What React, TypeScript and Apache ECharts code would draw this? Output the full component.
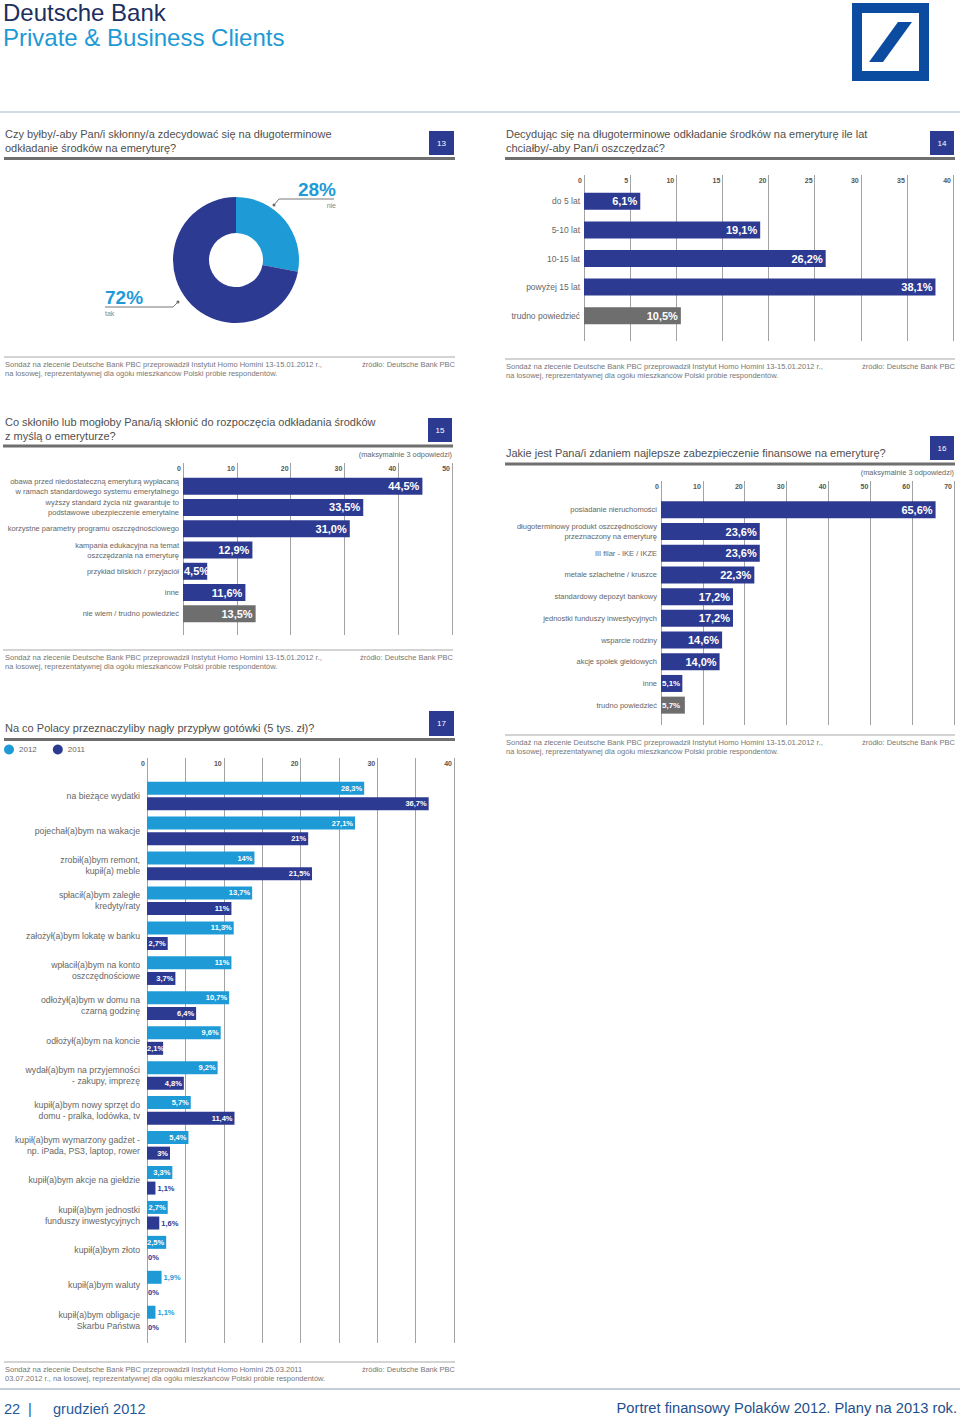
import React, { useEffect, useRef } from 'react';
import * as echarts from 'echarts';

const NAVY = '#2c3a92';
const LIGHT = '#1e9bd7';
const GRAY = '#6e6e6e';
const FONT = '"Liberation Sans", Arial, Helvetica, sans-serif';

// ---- Chart 13 (donut)
const pieNames = ['nie', 'tak'];
const pieValues = [28, 72];

// ---- Chart 14
const c14Categories = ['do 5 lat', '5-10 lat', '10-15 lat', 'powyżej 15 lat', 'trudno powiedzieć'];
const c14Values = [6.1, 19.1, 26.2, 38.1, 10.5];
const c14AxisMax = 40;
const c14AxisStep = 5;

// ---- Chart 15
const c15Categories = [
  'obawa przed niedostateczną emeryturą wypłacaną\nw ramach standardowego systemu emerytalnego',
  'wyższy standard życia niż gwarantuje to\npodstawowe ubezpieczenie emerytalne',
  'korzystne parametry programu oszczędnościowego',
  'kampania edukacyjna na temat\noszczędzania na emeryturę',
  'przykład bliskich / przyjaciół',
  'inne',
  'nie wiem / trudno powiedzieć',
];
const c15Values = [44.5, 33.5, 31.0, 12.9, 4.5, 11.6, 13.5];
const c15AxisMax = 50;
const c15AxisStep = 10;

// ---- Chart 16
const c16Categories = [
  'posiadanie nieruchomości',
  'długoterminowy produkt oszczędnościowy\nprzeznaczony na emeryturę',
  'III filar - IKE / IKZE',
  'metale szlachetne / kruszce',
  'standardowy depozyt bankowy',
  'jednostki funduszy inwestycyjnych',
  'wsparcie rodziny',
  'akcje spółek giełdowych',
  'inne',
  'trudno powiedzieć',
];
const c16Values = [65.6, 23.6, 23.6, 22.3, 17.2, 17.2, 14.6, 14.0, 5.1, 5.7];
const c16AxisMax = 70;
const c16AxisStep = 10;

// ---- Chart 17
const c17Categories = [
  'na bieżące wydatki',
  'pojechał(a)bym na wakacje',
  'zrobił(a)bym remont,\nkupił(a) meble',
  'spłacił(a)bym zaległe\nkredyty/raty',
  'założył(a)bym lokatę w banku',
  'wpłacił(a)bym na konto\noszczędnościowe',
  'odłożył(a)bym w domu na\nczarną godzinę',
  'odłożył(a)bym na koncie',
  'wydał(a)bym na przyjemności\n- zakupy, imprezę',
  'kupił(a)bym nowy sprzęt do\ndomu - pralka, lodówka, tv',
  'kupił(a)bym wymarzony gadżet -\nnp. iPada, PS3, laptop, rower',
  'kupił(a)bym akcje na giełdzie',
  'kupił(a)bym jednostki\nfunduszy inwestycyjnych',
  'kupił(a)bym złoto',
  'kupił(a)bym waluty',
  'kupił(a)bym obligacje\nSkarbu Państwa',
];
const c17Series = ['2012', '2011'];
const c17Values2012 = [28.3, 27.1, 14, 13.7, 11.3, 11, 10.7, 9.6, 9.2, 5.7, 5.4, 3.3, 2.7, 2.5, 1.9, 1.1];
const c17Values2011 = [36.7, 21, 21.5, 11, 2.7, 3.7, 6.4, 2.1, 4.8, 11.4, 3, 1.1, 1.6, 0, 0, 0];
const c17AxisMax = 40;
const c17AxisStep = 5;
const c17LabelStep = 10;

// ---- Texts
const NOTE_A = 'Sondaż na zlecenie Deutsche Bank PBC przeprowadził Instytut Homo Homini 13-15.01.2012 r.,';
const NOTE_B = 'na losowej, reprezentatywnej dla ogółu mieszkańców Polski próbie respondentów.';
const NOTE17_A = 'Sondaż na zlecenie Deutsche Bank PBC przeprowadził Instytut Homo Homini 25.03.2011';
const NOTE17_B = '03.07.2012 r., na losowej, reprezentatywnej dla ogółu mieszkańców Polski próbie respondentów.';
const SOURCE = 'źródło: Deutsche Bank PBC';
const MAX3 = '(maksymalnie 3 odpowiedzi)';

const fmt1 = (v: number) => v.toFixed(1).replace('.', ',') + '%';
const fmt17 = (v: number) => (Number.isInteger(v) ? String(v) : v.toFixed(1).replace('.', ',')) + '%';

function T(x: number, y: number, text: string, o: any = {}) {
  return {
    type: 'text',
    x,
    y,
    silent: true,
    style: {
      text,
      fill: o.fill ?? '#555',
      fontSize: o.size ?? 11,
      fontFamily: o.family ?? FONT,
      fontWeight: o.weight ?? 'normal',
      align: o.align ?? 'left',
      verticalAlign: o.va ?? 'middle',
      lineHeight: o.lh,
    },
  };
}
function R(x: number, y: number, w: number, h: number, fill: string) {
  return { type: 'rect', silent: true, shape: { x, y, width: w, height: h }, style: { fill } };
}
function L(x1: number, y1: number, x2: number, y2: number, stroke: string, lw = 1) {
  return { type: 'line', silent: true, shape: { x1, y1, x2, y2 }, style: { stroke, lineWidth: lw } };
}

function section(s: any) {
  const els: any[] = [];
  s.title.forEach((t: string, i: number) => els.push(T(s.tx, s.ty + i * 14, t, { size: 11, fill: '#505050' })));
  els.push(R(s.bx, s.by, s.bw, s.bh, NAVY));
  els.push(T(s.bx + s.bw / 2, s.by + s.bh / 2, s.num, { size: 8, fill: '#fff', align: 'center' }));
  els.push(L(s.rx0, s.ry, s.rx1, s.ry, '#6f6f6f', 3));
  if (s.max3y) els.push(T(s.rx1 - 1, s.max3y, MAX3, { size: 7.4, fill: '#666', align: 'right' }));
  els.push(L(s.rx0, s.fy, s.rx1, s.fy, '#a8a8a8', 1));
  els.push(T(s.tx, s.fy + 7, s.n1, { size: 7.5, fill: '#777' }));
  els.push(T(s.tx, s.fy + 16, s.n2, { size: 7.5, fill: '#777' }));
  els.push(T(s.rx1, s.fy + 7, SOURCE, { size: 7.5, fill: '#777', align: 'right' }));
  return els;
}

function buildGraphic() {
  const g: any[] = [];
  // header
  g.push(T(3, 12, 'Deutsche Bank', { size: 24, fill: '#1c2f60', lh: 24 }));
  g.push(T(3, 37, 'Private & Business Clients', { size: 24, fill: '#1d9ad6', lh: 24 }));
  g.push(R(852, 3, 77, 78, '#0c4ca0'));
  g.push(R(862, 13, 57, 58, '#ffffff'));
  g.push({ type: 'polygon', silent: true, shape: { points: [[898, 22], [912, 22], [883, 62], [869, 62]] }, style: { fill: '#0c4ca0' } });
  g.push(L(0, 112, 960, 112, '#a9b5c4', 1));
  // sections
  g.push(...section({ title: ['Czy byłby/-aby Pan/i skłonny/a zdecydować się na długoterminowe', 'odkładanie środków na emeryturę?'], tx: 5, ty: 134, bx: 429, by: 131, bw: 25, bh: 24, num: '13', rx0: 4, rx1: 455, ry: 158.5, fy: 357, n1: NOTE_A, n2: NOTE_B }));
  g.push(...section({ title: ['Decydując się na długoterminowe odkładanie środków na emeryturę ile lat', 'chciałby/-aby Pan/i oszczędzać?'], tx: 506, ty: 134, bx: 930, by: 131, bw: 24, bh: 24, num: '14', rx0: 505, rx1: 955, ry: 158.5, fy: 359, n1: NOTE_A, n2: NOTE_B }));
  g.push(...section({ title: ['Co skłoniło lub mogłoby Pana/ią skłonić do rozpoczęcia odkładania środków', 'z myślą o emeryturze?'], tx: 5, ty: 422, bx: 428, by: 418, bw: 24, bh: 24, num: '15', rx0: 3, rx1: 453, ry: 446, max3y: 454, fy: 650, n1: NOTE_A, n2: NOTE_B }));
  g.push(...section({ title: ['Jakie jest Pana/i zdaniem najlepsze zabezpieczenie finansowe na emeryturę?'], tx: 506, ty: 453, bx: 930, by: 436, bw: 24, bh: 24, num: '16', rx0: 505, rx1: 955, ry: 464, max3y: 472, fy: 735, n1: NOTE_A, n2: NOTE_B }));
  g.push(...section({ title: ['Na co Polacy przeznaczyliby nagły przypływ gotówki (5 tys. zł)?'], tx: 5, ty: 728, bx: 429, by: 711, bw: 25, bh: 25, num: '17', rx0: 4, rx1: 455, ry: 739.5, fy: 1362, n1: NOTE17_A, n2: NOTE17_B }));
  // pie leader dots
  g.push({ type: 'circle', silent: true, shape: { cx: 274, cy: 205, r: 1.5 }, style: { fill: '#666' } });
  g.push({ type: 'circle', silent: true, shape: { cx: 178, cy: 302, r: 1.5 }, style: { fill: '#666' } });
  // footer
  g.push(L(0, 1389, 960, 1389, '#8a9aac', 1));
  g.push(T(4, 1409, '22', { size: 14.6, fill: '#1f5a9c' }));
  g.push(T(28, 1409, '|', { size: 14.6, fill: '#1f5a9c' }));
  g.push(T(53, 1409, 'grudzień 2012', { size: 14.6, fill: '#1f5a9c' }));
  g.push(T(957, 1408, 'Portret finansowy Polaków 2012. Plany na 2013 rok.', { size: 14.7, fill: '#1f4f8c', align: 'right' }));
  return g;
}

function tickAxis(grid: number, max: number, step: number, labelEvery: number) {
  return {
    type: 'value', gridIndex: grid, min: 0, max, interval: step, position: 'top',
    axisLine: { show: false }, axisTick: { show: false },
    splitLine: { show: true, lineStyle: { color: '#a3a3a3', width: 1 } },
    axisLabel: {
      inside: true, margin: 2, align: 'right', verticalAlign: 'top', padding: [0, 2, 0, 0],
      fontSize: 7, fontWeight: 'bold', color: '#555', fontFamily: FONT,
      formatter: (v: number) => (v % labelEvery === 0 ? String(v) : ''),
    },
  };
}
function hiddenValueAxis(grid: number, max: number) {
  return { type: 'value', gridIndex: grid, min: 0, max, show: false };
}
function catAxis(grid: number, data: string[], fontSize: number, lineHeight: number, margin = 4) {
  return {
    type: 'category', gridIndex: grid, data, inverse: true,
    axisLine: { show: false }, axisTick: { show: false }, splitLine: { show: false },
    axisLabel: { margin, fontSize, lineHeight, color: '#666', fontFamily: FONT, interval: 0 },
  };
}
function simpleBars(grid: number, values: number[], fontSizeFor: (v: number) => number) {
  return {
    type: 'bar', xAxisIndex: grid, yAxisIndex: grid, barWidth: 17,
    data: values.map((v, i) => ({
      value: v,
      itemStyle: { color: i === values.length - 1 ? GRAY : NAVY },
      label: v < 6
        ? { fontSize: fontSizeFor(v), position: 'insideLeft', distance: 1 }
        : { fontSize: fontSizeFor(v), position: 'insideRight', distance: 3 },
    })),
    label: {
      show: true, color: '#fff', fontWeight: 'bold', fontFamily: FONT,
      formatter: (p: any) => fmt1(p.value),
    },
  };
}
function c17Item(v: number, color: string) {
  let label: any;
  if (v < 2) label = { position: 'right', distance: v === 0 ? 1 : 2, color };
  else if (v < 2.6) label = { position: 'insideLeft', distance: 0 };
  else label = { position: 'insideRight', distance: 2 };
  return { value: v, label };
}

function buildOption(): any {
  const grids = [
    { left: 584, top: 175, width: 369, height: 166 },
    { left: 584, top: 187, width: 369, height: 143 },
    { left: 183, top: 463, width: 269, height: 172 },
    { left: 183, top: 475.5, width: 269, height: 149 },
    { left: 661, top: 481, width: 293, height: 244 },
    { left: 661, top: 499, width: 293, height: 217 },
    { left: 147, top: 758, width: 307, height: 585 },
    { left: 147, top: 778.5, width: 307, height: 559 },
  ].map((g) => ({ ...g, containLabel: false, outerBoundsMode: 'none' }));

  return {
    animation: false,
    backgroundColor: '#ffffff',
    textStyle: { fontFamily: FONT },
    grid: grids,
    legend: {
      data: c17Series, left: 4, top: 744.5, padding: 0, icon: 'circle', itemWidth: 10, itemHeight: 10, itemGap: 16,
      textStyle: { fontSize: 8, color: '#666', fontFamily: FONT },
      selectedMode: false,
    },
    xAxis: [
      tickAxis(0, c14AxisMax, c14AxisStep, c14AxisStep),
      hiddenValueAxis(1, c14AxisMax),
      tickAxis(2, c15AxisMax, c15AxisStep, c15AxisStep),
      hiddenValueAxis(3, c15AxisMax),
      tickAxis(4, c16AxisMax, c16AxisStep, c16AxisStep),
      hiddenValueAxis(5, c16AxisMax),
      tickAxis(6, c17AxisMax, c17AxisStep, c17LabelStep),
      hiddenValueAxis(7, c17AxisMax),
    ],
    yAxis: [
      { type: 'value', gridIndex: 0, show: false },
      catAxis(1, c14Categories, 8.5, 10),
      { type: 'value', gridIndex: 2, show: false },
      catAxis(3, c15Categories, 7.5, 10),
      { type: 'value', gridIndex: 4, show: false },
      catAxis(5, c16Categories, 7.5, 10),
      { type: 'value', gridIndex: 6, show: false },
      catAxis(7, c17Categories, 8.7, 11, 7),
    ],
    graphic: buildGraphic(),
    series: [
      {
        type: 'pie', name: 'c13', center: [236, 260], radius: [27, 63], startAngle: 90, clockwise: true,
        avoidLabelOverlap: false, silent: true,
        data: pieNames.map((n, i) => ({ name: n, value: pieValues[i], itemStyle: { color: i === 0 ? LIGHT : NAVY } })),
        label: {
          show: true,
          formatter: (p: any) => `{v|${p.value}%}\n{n|${p.name}}`,
          rich: {
            v: { fontSize: 19, fontWeight: 'bold', color: LIGHT, lineHeight: 20, fontFamily: FONT },
            n: { fontSize: 7, color: '#888', lineHeight: 12, fontFamily: FONT },
          },
        },
        labelLine: { show: true, lineStyle: { color: '#777', width: 1 } },
        labelLayout: (params: any) =>
          params.dataIndex === 0
            ? { x: 336, y: 179, align: 'right', verticalAlign: 'top', labelLinePoints: [[274, 205], [279, 199], [334, 199]] }
            : { x: 105, y: 287, align: 'left', verticalAlign: 'top', labelLinePoints: [[178, 302], [173, 307], [105, 307]] },
      },
      simpleBars(1, c14Values, () => 11),
      simpleBars(3, c15Values, () => 11),
      simpleBars(5, c16Values, (v) => (v < 10 ? 8 : 11)),
      {
        type: 'bar', name: c17Series[0], xAxisIndex: 7, yAxisIndex: 7, barWidth: 13, barGap: '20%',
        itemStyle: { color: LIGHT },
        data: c17Values2012.map((v) => c17Item(v, LIGHT)),
        label: { show: true, color: '#fff', fontWeight: 'bold', fontSize: 7.5, fontFamily: FONT, formatter: (p: any) => fmt17(p.value) },
      },
      {
        type: 'bar', name: c17Series[1], xAxisIndex: 7, yAxisIndex: 7, barWidth: 13, barGap: '20%',
        itemStyle: { color: NAVY },
        data: c17Values2011.map((v) => c17Item(v, NAVY)),
        label: { show: true, color: '#fff', fontWeight: 'bold', fontSize: 7.5, fontFamily: FONT, formatter: (p: any) => fmt17(p.value) },
      },
    ],
  };
}

export default function App() {
  const ref = useRef<HTMLDivElement>(null);
  useEffect(() => {
    if (!ref.current) return;
    const chart = echarts.init(ref.current, null, { renderer: 'svg' });
    chart.setOption(buildOption());
    return () => chart.dispose();
  }, []);
  return (
    <div
      ref={ref}
      style={{ position: 'absolute', left: 0, top: 0, width: 960, height: 1423, background: '#ffffff' }}
    />
  );
}
